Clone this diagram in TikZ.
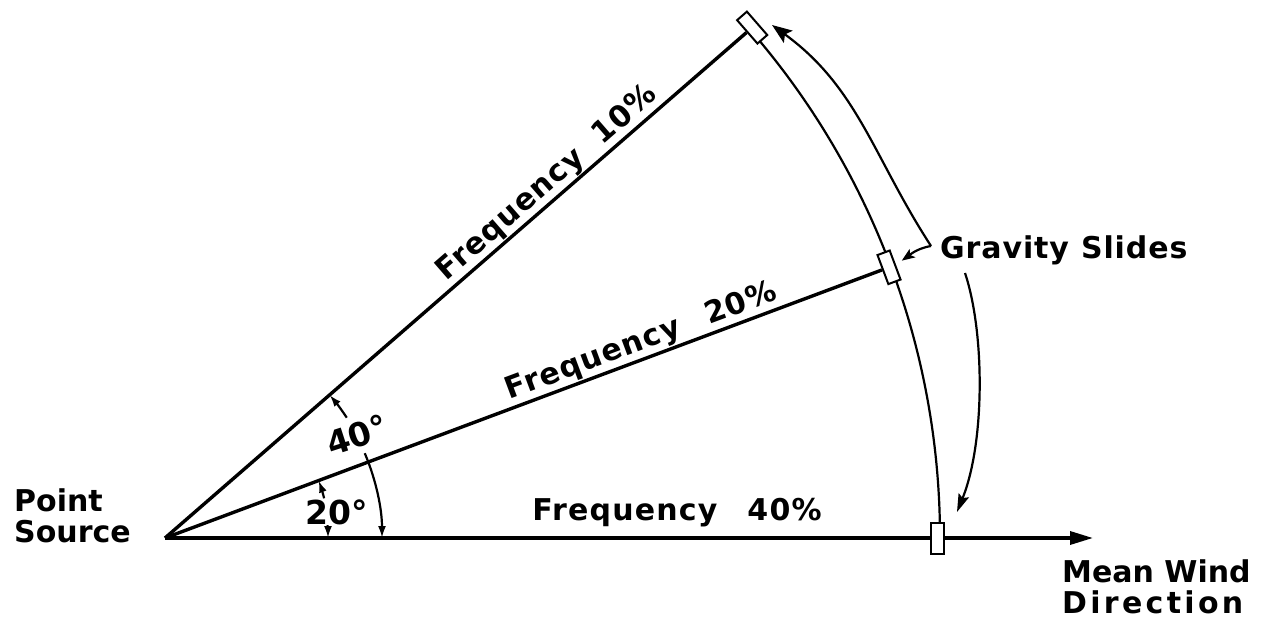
\documentclass[tikz,border=0pt]{standalone}
\usepackage{fontspec}
\setmainfont{DejaVu Sans}
\usetikzlibrary{arrows.meta,calc}
\begin{document}
\begin{tikzpicture}[x=1pt,y=1pt,
  lbl/.style={font=\fontsize{30}{31}\selectfont\bfseries, inner sep=0pt, align=left},
  freq/.style={font=\fontsize{30}{31}\selectfont\bfseries\addfontfeatures{LetterSpace=4}, inner sep=0pt},
  deg/.style={font=\fontsize{33}{35}\selectfont\bfseries, inner sep=0pt},
  heavy/.style={line width=3.4pt},
  thinline/.style={line width=2.2pt},
  slide/.style={draw, fill=white, line width=2pt, minimum width=13pt, minimum height=31pt, inner sep=0pt},
  angarr/.style={line width=2.2pt, -{Latex[length=12pt,width=8pt]}},
  bigarr/.style={line width=2.2pt, -{Stealth[length=20pt,width=15pt,inset=4pt]}},
  midarr/.style={line width=2.2pt, -{Stealth[length=18pt,width=11pt,inset=3pt]}},
  hookarr/.style={line width=2.2pt, -{Stealth[length=13pt,width=10pt,inset=3pt]}}
]
\useasboundingbox (0,0) rectangle (1263,633);
\coordinate (O) at (165,95);
\coordinate (tip) at (1093,95);
% slide arc
\draw[thinline] ($(O)+(0:775)$) arc[start angle=0,end angle=41,radius=775];
% gravity slides
\node[slide,rotate=0] (s0) at ($(O)+(0:772)$) {};
\node[slide,rotate=20.5] (s20) at ($(O)+(20.5:773)$) {};
\node[slide,rotate=41] (s40) at ($(O)+(41:778)$) {};
% rays
\draw[heavy] (O) -- (s40);
\draw[heavy] (O) -- (s20);
\draw[heavy] (O) -- (s0);
\draw[heavy,-{Triangle[length=23pt,width=13pt]}] (s0) -- (tip);
% angle arcs
\draw[angarr] ($(O)+(33.5:218)$) arc[start angle=33.5,end angle=41,radius=218];
\draw[angarr] ($(O)+(23:217)$) arc[start angle=23,end angle=0,radius=217];
\draw[angarr] ($(O)+(14:164)$) arc[start angle=14,end angle=20.5,radius=164];
\draw[angarr] ($(O)+(4.5:163)$) arc[start angle=4.5,end angle=0,radius=163];
\node[deg,rotate=18] (a40) at (357,198) {40°};
\node[deg] (a20) at (337,121) {20°};
% labels
\node[freq,anchor=base,rotate=41] (f10) at ($(O)+(41:521)+(131:9)$) {Frequency\hspace{22pt}10\%};
\node[freq,anchor=base,rotate=20.5] (f20) at ($(O)+(20.5:515)+(110.5:9)$) {Frequency\hspace{28pt}20\%};
\node[freq,anchor=base] (f40) at (677,113) {Frequency\hspace{30pt}40\%};
\node[lbl,anchor=base west] (ps) at (14,91) {Point\\Source};
\node[lbl,anchor=base west] (mw) at (1062,20) {Mean Wind\\\addfontfeatures{LetterSpace=11}Direction};
\node[lbl,anchor=base west,font=\fontsize{30}{31}\selectfont\bfseries\addfontfeatures{LetterSpace=3}] (gs) at (940,375) {Gravity\hspace{12pt}Slides};
% gravity slide arrows
\coordinate (gj) at (931,387);
\coordinate (gtop) at (772,608);
\coordinate (gl) at (965,360);
\coordinate (gbot) at (957,121);
\draw[bigarr] (gj) to[out=123,in=-36] (gtop);
\draw[hookarr,shorten >=7pt] (gj) to[out=190,in=35] (s20.east);
\draw[midarr] (gl) .. controls (985,300) and (985,190) .. (gbot);
\end{tikzpicture}
\end{document}
